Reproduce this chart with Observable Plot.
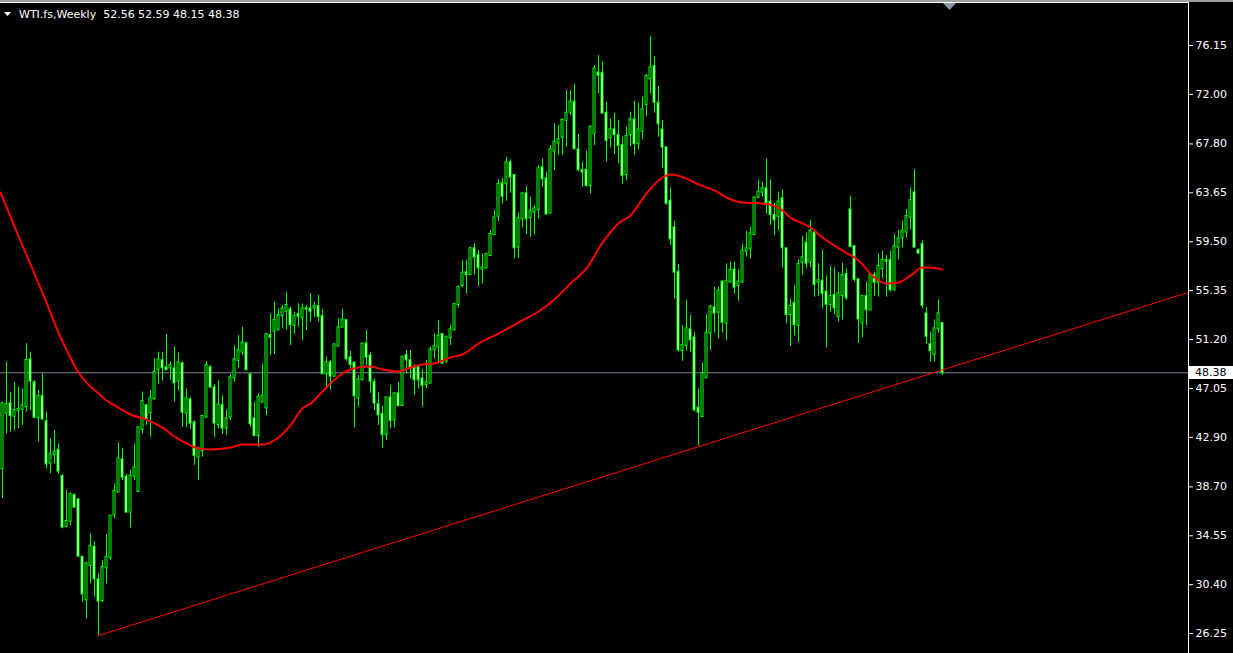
<!DOCTYPE html>
<html><head><meta charset="utf-8">
<script src="https://cdn.jsdelivr.net/npm/d3@7"></script>
<script src="https://cdn.jsdelivr.net/npm/@observablehq/plot@0.6"></script>
<style>
html,body{margin:0;padding:0;background:#000;overflow:hidden;}
#chart{width:1233px;height:653px;}
svg text{white-space:pre;}
</style></head><body><div id="chart"></div>
<script>
const symbol = "WTI.fs";
const timeframe = "Weekly";

const opens = [
40.23,44.95,45.75,44.67,45.18,45.29,45.52,49.48,47.53,44.56,
46.37,44.25,40.71,41.42,41.79,39.58,35.34,35.79,37.97,37.60,
32.73,29.11,32.03,33.58,30.81,29.05,31.83,32.68,36.33,38.25,
40.99,39.52,36.55,39.61,38.31,43.57,45.58,44.98,46.17,48.63,
49.42,48.80,48.80,48.71,47.67,49.14,44.95,46.08,44.13,41.22,
41.78,44.61,48.80,47.10,43.99,45.60,43.71,44.61,47.95,49.42,
50.13,50.83,48.20,44.47,43.05,45.88,45.40,51.54,51.91,52.02,
53.24,53.60,53.72,52.39,53.32,53.04,53.80,53.80,53.89,54.00,
53.15,48.29,49.22,48.09,50.64,52.25,52.81,49.65,49.20,46.25,
47.78,50.83,49.81,47.58,45.69,44.84,43.14,46.25,44.39,46.59,
45.60,49.84,49.42,48.85,48.80,47.86,47.38,47.50,50.32,50.55,
51.63,49.36,51.34,52.02,54.17,55.78,56.86,56.72,58.90,58.33,
57.17,57.28,58.33,60.11,61.67,64.41,64.41,66.19,65.12,59.04,
61.44,63.56,61.52,62.01,62.20,65.77,64.84,61.92,67.18,67.87,
68.37,69.79,70.49,71.34,67.30,65.54,65.54,64.27,68.65,73.83,
73.80,70.41,68.32,68.99,68.51,67.66,65.20,68.60,69.84,67.81,
68.88,71.14,73.32,74.37,71.26,68.99,67.47,62.94,60.68,56.92,
50.27,50.69,52.02,51.34,45.40,44.67,47.95,51.74,53.89,53.52,
56.07,52.59,56.07,57.11,55.78,56.07,58.70,58.90,60.11,63.28,
63.70,63.99,62.86,61.72,61.64,63.14,58.90,53.32,54.28,52.39,
57.77,59.38,57.77,60.23,56.07,56.15,55.22,54.17,54.94,53.15,
54.94,56.72,62.21,59.09,56.27,52.59,54.85,53.72,56.63,56.07,
57.20,57.91,57.91,55.42,59.04,59.83,60.31,61.58,63.65,58.76,
59.26,53.38,50.78,49.93,52.11,52.56];

const highs = [
45.88,49.28,46.74,47.58,47.16,47.02,50.84,50.13,47.73,46.88,
48.29,45.04,42.78,43.48,42.35,39.75,38.39,38.16,38.11,37.68,
32.73,32.31,34.71,34.01,31.32,32.45,34.66,36.27,38.96,42.41,
41.93,39.75,40.09,42.35,43.77,46.74,45.69,46.88,49.57,50.13,
50.13,51.63,49.28,50.55,50.04,49.28,47.00,46.30,44.33,42.07,
44.75,49.36,48.99,47.38,47.72,46.45,45.23,48.23,50.69,51.54,
52.25,50.98,48.29,45.88,46.59,49.14,51.68,53.38,54.37,53.80,
54.09,55.22,53.95,53.52,54.23,54.23,54.09,55.08,54.37,54.94,
53.75,49.70,49.42,50.83,52.96,53.75,52.87,50.21,49.28,48.15,
50.83,51.97,50.13,47.87,46.65,45.52,46.31,47.30,46.59,47.58,
49.76,50.27,50.27,49.08,49.08,48.63,49.42,50.55,51.68,52.81,
51.63,51.40,52.39,54.17,55.70,57.90,57.90,59.04,59.32,58.75,
58.47,58.53,60.45,62.15,64.75,64.89,66.67,66.45,65.12,61.92,
63.62,64.19,63.28,62.57,65.97,66.53,65.40,67.66,69.50,69.36,
69.93,72.33,72.33,72.84,68.60,66.25,67.18,69.36,74.45,75.30,
74.74,71.34,69.93,70.41,69.79,68.37,69.22,70.49,71.42,71.26,
71.77,73.69,76.91,75.22,72.67,69.79,67.47,64.07,61.24,57.57,
52.39,54.51,53.24,51.82,47.01,49.19,53.32,54.09,55.64,55.64,
56.21,57.62,57.77,57.77,57.11,59.32,60.39,60.73,63.28,64.75,
64.55,66.53,64.75,62.77,63.71,63.90,58.90,54.65,55.78,57.96,
59.94,60.23,61.30,60.45,57.62,58.76,56.63,57.40,57.28,56.92,
57.68,57.20,63.34,59.09,56.35,54.94,56.07,56.77,56.91,58.47,
58.70,58.33,58.70,60.11,60.45,61.24,62.21,64.07,65.60,58.90,
59.60,53.94,51.82,52.87,54.57,52.59];

const lows = [
37.71,43.20,43.34,43.48,43.62,43.91,45.04,45.18,44.47,42.49,
44.33,40.23,39.81,40.65,39.75,35.14,35.22,35.42,36.92,32.73,
28.91,27.50,30.47,29.34,26.08,28.91,30.47,32.45,35.99,38.25,
39.24,36.55,35.22,39.24,38.25,43.20,43.91,42.92,46.03,47.44,
47.67,48.57,47.72,45.88,46.87,43.76,43.76,43.62,40.51,39.24,
41.22,44.61,47.10,42.90,43.62,43.14,43.05,44.33,47.58,48.71,
49.85,48.57,43.76,43.05,42.07,45.88,44.75,49.85,49.93,51.97,
52.19,52.02,50.69,51.68,52.25,51.12,51.97,52.67,53.10,52.67,
48.29,47.02,46.93,48.09,50.55,52.25,49.36,48.71,43.70,45.46,
47.72,48.99,46.65,45.18,43.90,42.00,42.63,43.62,43.70,45.46,
45.52,48.29,47.86,46.45,47.02,45.46,47.02,47.50,49.56,49.14,
49.14,49.14,50.69,51.97,53.89,55.59,55.08,56.63,56.63,55.70,
55.93,57.20,58.24,60.03,61.24,62.71,62.94,63.62,58.05,58.10,
60.68,60.11,59.89,60.11,61.44,64.13,61.72,61.86,65.54,66.82,
66.82,67.52,70.21,67.38,65.49,64.13,64.13,63.56,67.66,72.05,
70.35,66.25,67.47,66.90,66.11,64.41,64.69,67.58,66.82,67.30,
68.15,70.12,72.05,70.41,68.37,65.69,62.57,59.18,54.65,50.13,
49.36,50.21,50.13,45.04,42.20,44.61,47.95,50.27,51.74,51.26,
51.74,51.12,56.07,55.08,54.45,56.07,58.19,58.05,60.11,63.14,
63.28,61.86,60.88,60.03,60.45,57.28,52.53,50.61,51.54,50.97,
56.63,57.20,57.28,54.79,54.85,53.80,50.49,53.52,53.32,52.67,
52.87,54.51,59.00,56.07,50.89,51.34,52.39,53.72,54.85,54.79,
56.35,54.79,55.22,55.30,57.96,58.98,59.83,60.51,58.98,58.53,
53.80,50.78,49.28,49.28,51.74,48.15];

const closes = [
45.75,45.69,44.76,45.18,45.27,45.58,49.42,47.67,44.61,46.37,
44.47,40.65,41.42,41.64,40.03,35.28,35.76,38.05,36.98,32.82,
29.62,32.17,33.67,30.90,29.00,31.88,32.73,36.21,38.33,41.08,
39.52,36.55,39.61,40.31,43.71,45.94,44.47,46.23,48.43,49.48,
48.80,48.63,48.99,47.52,49.22,45.04,46.17,44.10,41.36,41.92,
44.67,48.99,47.16,44.10,45.66,43.68,44.47,47.95,49.48,50.27,
50.92,48.63,44.05,43.05,46.30,46.39,51.63,51.40,52.81,53.24,
53.80,54.09,52.47,53.15,53.15,53.80,53.78,53.60,54.00,53.15,
48.29,49.22,48.09,50.75,52.19,52.87,49.56,49.08,46.42,47.78,
50.83,49.70,47.67,45.80,44.81,43.14,46.25,44.33,46.59,45.60,
49.70,49.48,48.80,47.78,47.78,47.30,47.55,50.32,50.60,51.48,
49.20,51.40,52.02,54.17,55.64,56.83,56.69,58.90,58.19,57.28,
57.28,58.41,60.11,61.52,64.36,63.36,66.19,64.98,58.98,61.44,
63.56,61.44,62.09,62.29,65.69,64.84,61.86,67.30,67.95,68.15,
69.79,70.41,71.34,67.38,65.60,65.40,64.27,69.22,74.17,73.60,
70.41,68.09,68.99,68.60,67.66,65.12,68.43,69.84,67.81,68.99,
70.69,73.52,74.26,71.34,69.50,67.52,62.77,59.74,56.92,50.32,
50.69,52.11,51.17,45.23,45.04,48.29,51.74,53.95,53.44,55.30,
52.67,56.15,57.06,55.64,56.07,58.70,58.90,60.17,63.22,63.70,
63.99,62.77,61.81,61.36,62.86,58.98,53.32,54.00,52.47,57.57,
58.13,57.68,60.40,55.87,56.20,55.13,54.20,54.85,53.89,55.08,
56.63,54.74,59.09,56.30,52.96,54.85,53.72,56.63,56.07,57.40,
57.91,57.85,55.42,59.09,59.74,60.40,61.64,62.99,59.04,58.53,
54.09,51.46,50.27,52.11,53.38,48.38];

// moving average : bar index and value
const maIndex = [-0.5,3,7,11,14,16,19,21,24,26,29,32,36,40,43,46,49,52,57,60,
65,69,72,75,77,80,82,85,89,92,95,99,102,105,108,112,115,119,124,129,
134,138,142,146,150,154,157,161,165,167,171,174,178,181,185,190,194,197,200,202,
205,210,214,218,221,224,227,230,232,235];
const maValues = [63.68,60.79,57.57,54.34,51.80,50.35,48.40,47.55,46.62,46.03,
45.43,44.84,44.41,43.73,42.97,42.38,41.95,41.87,42.04,42.29,
42.29,42.89,43.91,45.35,45.77,46.79,47.47,48.32,48.83,48.91,
48.66,48.49,48.83,49.08,49.17,49.68,49.93,50.86,51.71,52.65,
53.58,54.60,55.95,57.23,59.43,61.05,61.73,63.59,64.95,65.20,
64.86,64.36,63.85,63.25,62.83,62.74,62.40,61.55,61.05,60.71,
59.86,58.75,57.91,56.46,55.95,56.04,56.63,57.31,57.31,57.14];

// trend line anchors (bar index, price)
const trendIndex = [24, 296.5];
const trendValues = [26.08, 55.2];

const priceTicks = [76.15,72.00,67.80,63.65,59.50,55.35,51.20,47.05,42.90,38.70,34.55,30.40,26.25];

const candles = opens.map((o, i) => ({i, o, h: highs[i], l: lows[i], c: closes[i]}));
const ma = maIndex.map((x, k) => ({x, y: maValues[k]}));
const trend = trendIndex.map((x, k) => ({x, y: trendValues[k]}));
const last = candles[candles.length - 1];

const W = 1233, H = 653, MR = 45;
const chart = Plot.plot({
  width: W, height: H,
  marginLeft: 0, marginRight: MR, marginTop: 4, marginBottom: 0,
  style: {background: "#000", color: "#fff", fontFamily: "DejaVu Sans", fontSize: "11px", overflow: "visible"},
  x: {domain: [-0.5, 296.5], axis: null},
  y: {domain: [24.56, 79.63], axis: null},
  marks: [
    Plot.ruleY([last.c], {stroke: "#778899", strokeWidth: 1}),
    Plot.ruleX(candles, {x: "i", y1: "l", y2: "h", stroke: "#00ff00", strokeWidth: 1}),
    Plot.rect(candles, {
      x1: d => d.i - 0.25, x2: d => d.i + 0.25,
      y1: d => Math.min(d.o, d.c), y2: d => Math.max(d.o, d.c),
      insetTop: -0.5, insetBottom: -0.5,
      fill: d => d.c >= d.o ? "#000000" : "#ffffff",
      stroke: "#00ff00", strokeWidth: 1
    }),
    Plot.line(trend, {x: "x", y: "y", stroke: "#ff0000", strokeWidth: 1}),
    Plot.line(ma, {x: "x", y: "y", stroke: "#ff0000", strokeWidth: 2, curve: "monotone-x"}),
    Plot.axisY({anchor: "right", ticks: priceTicks, tickFormat: d => d.toFixed(2), tickSize: 4, tickPadding: 3, color: "#ffffff", fontSize: 11, fontFamily: "DejaVu Sans"})
  ]
});

const svg = d3.select(chart);
const yS = chart.scale("y");
// frame decorations
svg.append("rect").attr("x", 0).attr("y", 0).attr("width", W).attr("height", 2).attr("fill", "#a0a0a0");
svg.append("rect").attr("x", 0).attr("y", 2).attr("width", W - MR).attr("height", 1).attr("fill", "#ffffff");
svg.append("rect").attr("x", W - MR).attr("y", 2).attr("width", 1).attr("height", H - 2).attr("fill", "#ffffff");
svg.append("polygon").attr("points", "943,3 956,3 949.5,10").attr("fill", "#8899aa");
// current price label
const yl = yS.apply(last.c);
svg.append("rect").attr("x", W - MR + 1).attr("y", Math.round(yl) - 6).attr("width", 44).attr("height", 13).attr("fill", "#ffffff");
svg.append("text").attr("x", W - MR + 7).attr("y", Math.round(yl) + 1).attr("dominant-baseline", "middle")
  .attr("text-anchor", "start")
  .attr("fill", "#000").attr("font-family", "DejaVu Sans").attr("font-size", 11).text(last.c.toFixed(2));
// legend
svg.append("polygon").attr("points", "4,12 11,12 7.5,16").attr("fill", "#ffffff");
svg.append("text").attr("x", 19).attr("y", 18).attr("text-anchor", "start").attr("fill", "#ffffff")
  .attr("font-family", "DejaVu Sans").attr("font-size", 11)
  .text(`${symbol},${timeframe}  ${last.o.toFixed(2)} ${last.h.toFixed(2)} ${last.l.toFixed(2)} ${last.c.toFixed(2)}`);

document.getElementById("chart").appendChild(chart);
</script>
</body></html>
